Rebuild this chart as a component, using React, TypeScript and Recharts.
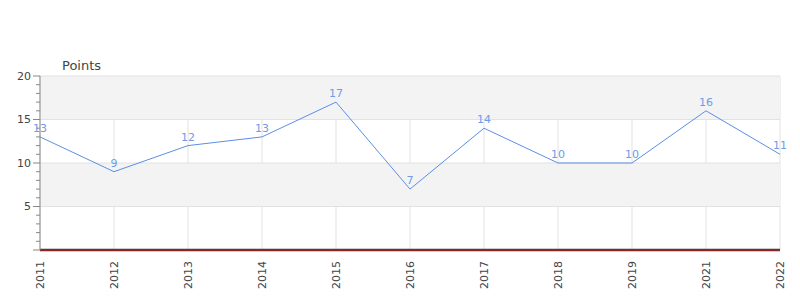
import React from "react";
import {
  LineChart,
  Line,
  XAxis,
  YAxis,
  CartesianGrid,
  ReferenceArea,
  ReferenceLine,
  LabelList,
} from "recharts";

const years = ["2011", "2012", "2013", "2014", "2015", "2016", "2017", "2018", "2019", "2021", "2022"];
const points = [13, 9, 12, 13, 17, 7, 14, 10, 10, 16, 11];
const yTicks = Array.from({ length: 21 }, (_, i) => i);
const majorTicks = [5, 10, 15, 20];
const bands = [
  [15, 20],
  [5, 10],
];

const data = years.map((y, i) => ({ year: y, points: points[i] }));

const FONT = "'DejaVu Sans', sans-serif";

const YTick = (props: any) => {
  const { y, payload } = props;
  const v = payload.value;
  const major = v % 5 === 0;
  const ax = 40;
  return (
    <g>
      <line x1={ax - (major ? 7 : 4)} x2={ax} y1={y} y2={y} stroke="#888" strokeWidth={1} />
      {major && v !== 0 && (
        <text x={31} y={y} dy="0.35em" textAnchor="end" fontSize={11} fill="#444" fontFamily={FONT}>
          {v}
        </text>
      )}
    </g>
  );
};

const XTick = (props: any) => {
  const { x, payload } = props;
  return (
    <text
      transform={`translate(${x},${250 + 11}) rotate(-90)`}
      dy="0.35em"
      textAnchor="end"
      fontSize={11}
      fill="#444"
      fontFamily={FONT}
    >
      {payload.value}
    </text>
  );
};

export default function App() {
  return (
    <div style={{ position: "absolute", left: 0, top: 0, width: 800, height: 300, background: "#fff" }}>
      <div
        style={{
          position: "absolute",
          left: 62,
          top: 58,
          fontSize: 13,
          lineHeight: "15px",
          fontFamily: FONT,
          color: "#444",
        }}
      >
        Points
      </div>
      <LineChart width={800} height={300} data={data} margin={{ top: 76, right: 20, bottom: 0, left: 0 }}>
        {bands.map(([a, b]) => (
          <ReferenceArea key={a} y1={a} y2={b} fill="#f3f3f3" fillOpacity={1} stroke="none" ifOverflow="visible" />
        ))}
        <CartesianGrid horizontal={false} vertical={true} stroke="#e2e2e2" />
        {majorTicks.map((t) => (
          <ReferenceLine key={t} y={t} stroke="#e2e2e2" strokeWidth={1} />
        ))}
        <XAxis
          dataKey="year"
          height={50}
          interval={0}
          tickLine={false}
          axisLine={false}
          tick={<XTick />}
        />
        <YAxis
          width={40}
          domain={[0, 20]}
          ticks={yTicks}
          interval={0}
          tickLine={false}
          axisLine={{ stroke: "#888" }}
          tick={<YTick />}
        />
        <ReferenceLine y={0} stroke="#3a3a3a" strokeWidth={2.5} ifOverflow="visible" />
        <ReferenceLine y={0} stroke="#e01010" strokeWidth={1} ifOverflow="visible" />
        <Line
          type="linear"
          dataKey="points"
          stroke="#5b8ee6"
          strokeWidth={1}
          dot={false}
          isAnimationActive={false}
        >
          <LabelList dataKey="points" position="top" offset={5} fontSize={11} fill="#6f9be8" fontFamily={FONT} />
        </Line>
      </LineChart>
    </div>
  );
}
